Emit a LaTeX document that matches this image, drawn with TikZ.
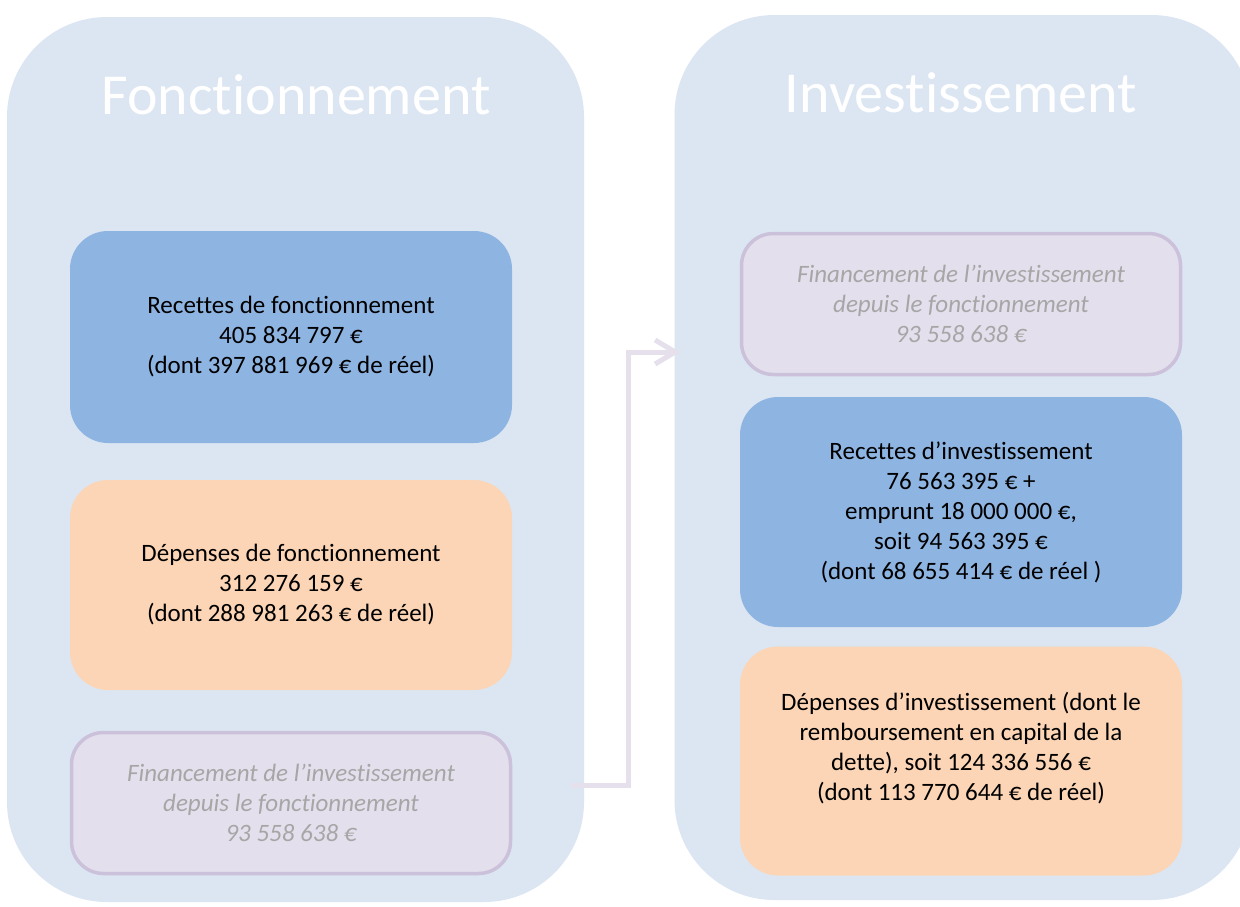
\documentclass[tikz,border=0pt]{standalone}
\usepackage{fontspec}
\setmainfont[RawFeature=-liga]{Carlito}
\usepackage{tikz}
\usetikzlibrary{arrows.meta, positioning, calc}
\usepackage{xcolor}
\definecolor{panelbg}{HTML}{DCE6F2}
\definecolor{recblue}{HTML}{8EB4E2}
\definecolor{deporange}{HTML}{FBD5B5}
\definecolor{finlilac}{HTML}{E4DFEC}
\definecolor{finborder}{HTML}{CCC1DA}
\definecolor{fintext}{HTML}{A6A6A6}
\definecolor{flowlilac}{HTML}{E5E0EC}
\tikzset{
  panel/.style={rectangle, rounded corners=100pt, fill=panelbg,
                minimum width=577pt, minimum height=885pt},
  panelTitle/.style={text=white, font=\fontsize{58}{62}\selectfont},
  box/.style={rectangle, rounded corners=38pt, minimum width=442pt,
              align=center, font=\fontsize{25}{30}\selectfont},
  recBox/.style={box, fill=recblue},
  depBox/.style={box, fill=deporange},
  finBox/.style={box, rounded corners=32pt, fill=finlilac, draw=finborder,
                 line width=3.5pt, minimum width=439pt, minimum height=141pt,
                 text=fintext, font=\fontsize{25}{30}\selectfont\itshape},
  txt/.style={align=center, font=\fontsize{25}{30}\selectfont},
  flow/.style={-{Straight Barb[length=20pt, width=24pt]}, line width=5pt,
               draw=flowlilac, line cap=round},
}

\begin{document}
\begin{tikzpicture}[x=1pt, y=-1pt]

  %% ── Canvas ───────────────────────────────────────────────────────────────
  \useasboundingbox (0,0) rectangle (1240,906);
  \fill[white] (0,0) rectangle (1240,906);

  %% ── Panels ───────────────────────────────────────────────────────────────
  \node[panel] (fonc) at (295.5,459.5) {};
  \node[panel] (inv)  at (963,457.5) {};
  \node[panelTitle] (foncTitle) at (296,95) {Fonctionnement};
  \node[panelTitle] (invTitle)  at (961,93) {Investissement};

  %% ── Fonctionnement column ───────────────────────────────────────────────
  \node[recBox, minimum height=212pt] (recF) at (291,337) {};
  \node[txt] at (recF.center) {Recettes de fonctionnement\\405 834 797 €\\(dont 397 881 969 € de réel)};
  \node[depBox, minimum height=210pt] (depF) at (291,585) {};
  \node[txt] at (depF.center) {Dépenses de fonctionnement\\312 276 159 €\\(dont 288 981 263 € de réel)};
  \node[finBox] (finF) at (291,803) {Financement de l’investissement\\depuis le fonctionnement\\93 558 638 €};

  %% ── Investissement column ───────────────────────────────────────────────
  \node[finBox] (finI) at (961,304) {Financement de l’investissement\\depuis le fonctionnement\\93 558 638 €};
  \node[recBox, minimum height=230pt] (recI) at (961,512) {};
  \node[txt] at (recI.center) {Recettes d’investissement\\76 563 395 € +\\emprunt 18 000 000 €,\\soit 94 563 395 €\\(dont 68 655 414 € de réel )};
  \node[depBox, minimum height=229pt] (depI) at (961,761) {};
  \node[txt] at ($(depI.center)+(0,-13)$) {Dépenses d’investissement (dont le\\remboursement en capital de la\\dette), soit 124 336 556 €\\(dont 113 770 644 € de réel)};

  %% ── Transfer arrow ───────────────────────────────────────────────────────
  \coordinate (flowStart) at (573,785);
  \coordinate (flowTurn)  at (628,352);
  \coordinate (flowEnd)   at (680,352);
  \draw[flow] (flowStart) -| (flowTurn) -- (flowEnd);

\end{tikzpicture}
\end{document}
